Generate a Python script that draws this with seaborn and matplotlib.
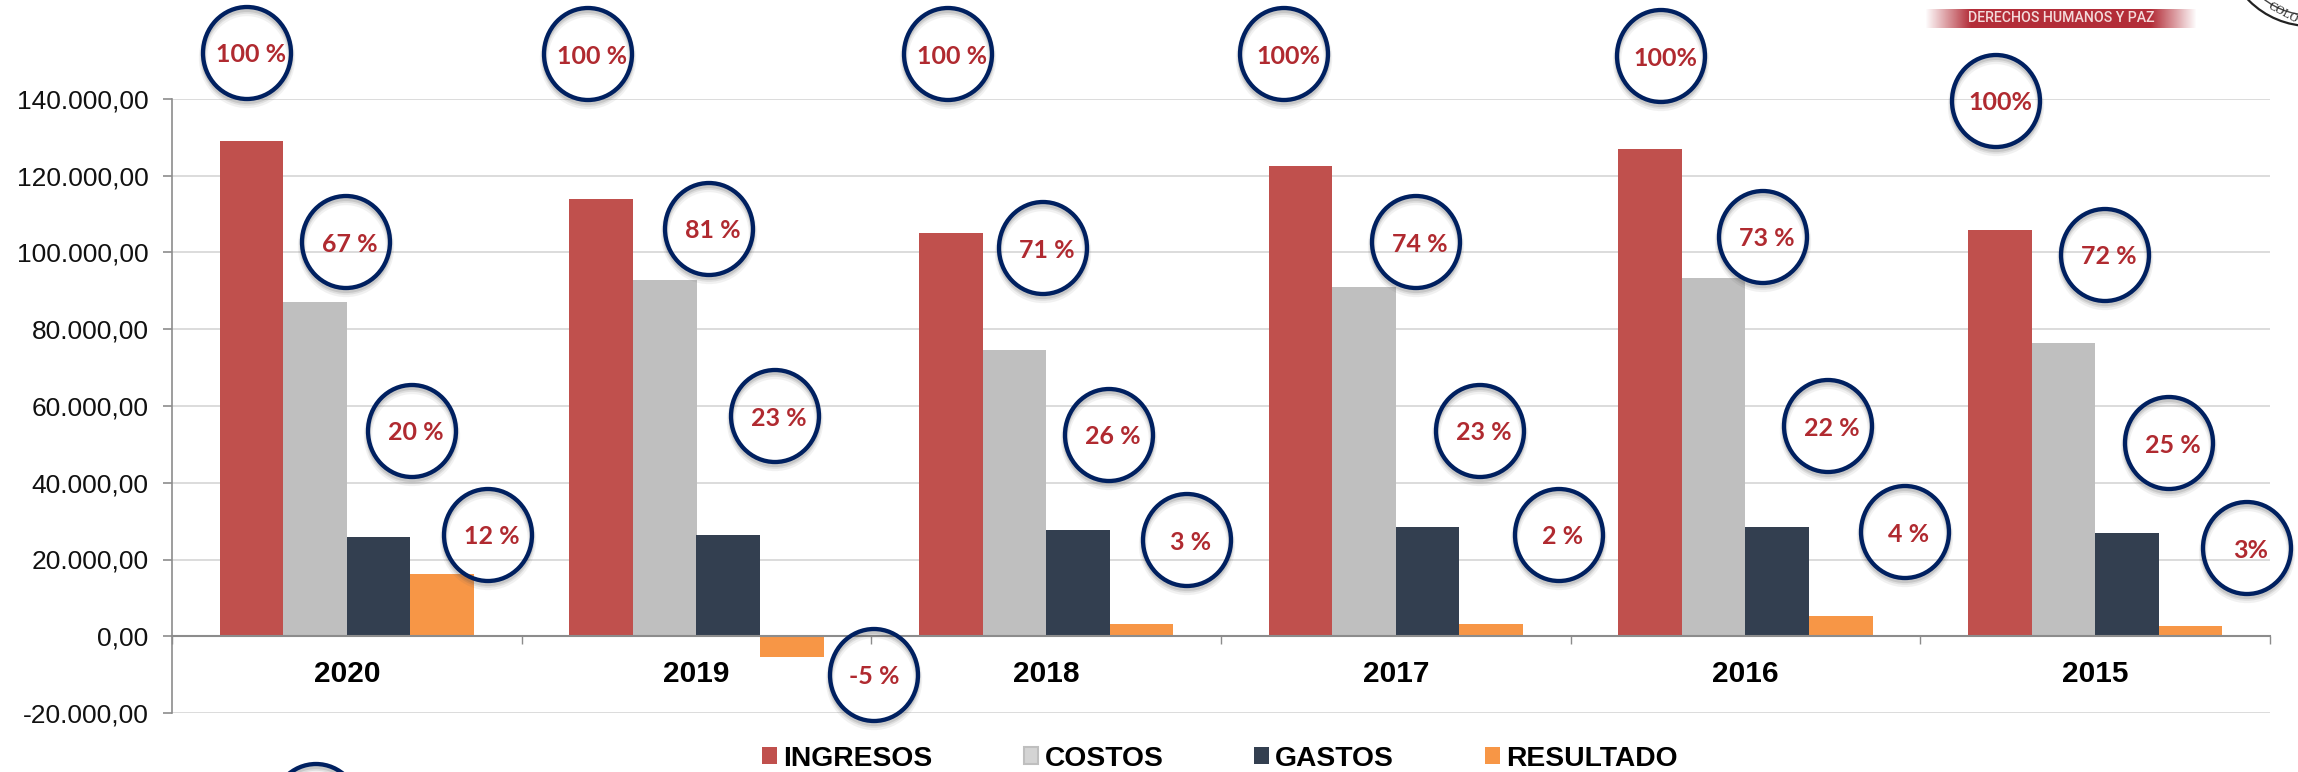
import numpy as np
import pandas as pd
import seaborn as sns
import matplotlib
matplotlib.use("Agg")
import matplotlib.pyplot as plt
from matplotlib.patches import Ellipse
from matplotlib.transforms import Affine2D

W, H = 2298, 772

years = ["2020", "2019", "2018", "2017", "2016", "2015"]
series = ["INGRESOS", "COSTOS", "GASTOS", "RESULTADO"]
ingresos = [129000, 113900, 105100, 122600, 126900, 105900]
costos = [87200, 92900, 74600, 91000, 93300, 76500]
gastos = [25800, 26500, 27700, 28400, 28400, 26900]
resultado = [16200, -5400, 3200, 3200, 5400, 2800]
y_ticks = [-20000, 0, 20000, 40000, 60000, 80000, 100000, 120000, 140000]

colors = ["#C0504D", "#BFBFBF", "#333F50", "#F79646"]

# callouts, pixel positions
labels = ["100 %", "67 %", "20 %", "12 %",
          "100 %", "81 %", "23 %", "-5 %",
          "100 %", "71 %", "26 %", "3 %",
          "100%", "74 %", "23 %", "2 %",
          "100%", "73 %", "22 %", "4 %",
          "100%", "72 %", "25 %", "3%"]
label_x = [247, 346, 412, 488, 588, 709, 775, 874, 948, 1043, 1109, 1187,
           1284, 1416, 1480, 1559, 1661, 1763, 1828, 1905, 1996, 2105, 2169, 2247]
label_y = [53, 242, 431, 535, 54, 229, 416, 675, 54, 248, 435, 540,
           54, 242, 431, 535, 56, 237, 426, 532, 101, 255, 443, 548]

df = pd.DataFrame({"year": years, "INGRESOS": ingresos, "COSTOS": costos,
                   "GASTOS": gastos, "RESULTADO": resultado})
df = df.melt(id_vars="year", var_name="serie", value_name="valor")

sns.set_theme(style="white")
plt.rcParams["font.family"] = ["Liberation Sans", "DejaVu Sans"]

fig = plt.figure(figsize=(W / 100, H / 100), dpi=100)
ax = fig.add_axes([172 / W, 1 - 713 / H, (2270 - 172) / W, (713 - 99) / H])

sns.barplot(data=df, x="year", y="valor", hue="serie", order=years, hue_order=series,
            palette=colors, width=0.7275, gap=0, saturation=1, errorbar=None, ax=ax, zorder=3,
            linewidth=0)

ax.set_xlim(-0.5, 5.5)
ax.set_ylim(-20000, 140000)
ax.set_xlabel("")
ax.set_ylabel("")
ax.set_yticks(y_ticks)
ax.set_yticklabels([f"{v:,.2f}".replace(",", "#").replace(".", ",").replace("#", ".") for v in y_ticks],
                   fontsize=19, color="#111111")
ax.tick_params(axis="y", length=6.5, width=1.2, color="#8C8C8C", left=True, pad=10.5)
ax.grid(axis="y", color="#D9D9D9", linewidth=1.3, zorder=0)
ax.set_axisbelow(True)

for s in ["top", "right"]:
    ax.spines[s].set_visible(False)
ax.spines["left"].set_color("#8C8C8C")
ax.spines["left"].set_linewidth(1.2)
ax.spines["bottom"].set_position(("data", 0))
ax.spines["bottom"].set_color("#8C8C8C")
ax.spines["bottom"].set_linewidth(1.5)
ax.spines["bottom"].set_zorder(4)

ax.set_xticks(np.arange(-0.5, 6), minor=True)
ax.tick_params(axis="x", which="minor", length=6, width=1, color="#8C8C8C", bottom=True)
ax.tick_params(axis="x", which="major", length=0, pad=17)
for t in ax.get_xticklabels():
    t.set_fontsize(21.5)
    t.set_fontweight("bold")
    t.set_color("black")

sns.move_legend(ax, "center", bbox_to_anchor=(1220 / W, 1 - 758.5 / H), bbox_transform=fig.transFigure,
                ncol=4, frameon=False, title=None, fontsize=20.3, handlelength=0.53, handleheight=0.53,
                handletextpad=0.21, columnspacing=3.23, borderpad=0, borderaxespad=0)
for t in ax.get_legend().get_texts():
    t.set_fontweight("bold")
    t.set_color("black")
ax.get_legend().legend_handles[1].set_facecolor("#D4D4D4")
ax.get_legend().legend_handles[1].set_edgecolor("#BFBFBF")
ax.get_legend().legend_handles[1].set_linewidth(1.5)

# pixel space with y going down
px = Affine2D().scale(1, -1).translate(0, H)


def ring(x, y):
    for dy, dw, a in [(5, 6, 0.08), (4, 4, 0.12), (3, 3, 0.16)]:
        fig.add_artist(Ellipse((x, y + dy), 88, 92, transform=px, fill=False,
                               edgecolor="#555555", linewidth=dw, alpha=a))
    fig.add_artist(Ellipse((x, y), 88, 92, transform=px, fill=False, edgecolor="#002060", linewidth=3.1))


for lab, x, y in zip(labels, label_x, label_y):
    ring(x, y)
    dx = 0 if lab == "-5 %" else 4
    fig.text((x + dx) / W, 1 - (y + 2) / H, lab, ha="center", va="center", fontsize=18,
             fontweight="bold", family="Lato", color="#B02A30")
# circle cut by the bottom edge
ring(316, 810)

# logo remains, top right
band = np.ones((1, 256, 4))
band[0, :, :3] = matplotlib.colors.to_rgb("#B32D38")
band[0, :, 3] = np.clip(np.minimum(np.linspace(0, 1, 256), np.linspace(1, 0, 256)) * 6, 0, 1)
logo = fig.add_axes([1925 / W, 1 - 28 / H, 272 / W, 19 / H])
logo.imshow(band, aspect="auto")
logo.axis("off")
fig.text(2061 / W, 1 - 18.5 / H, "DERECHOS HUMANOS Y PAZ", ha="center", va="center", fontsize=10.2,
         fontweight="medium", family="Roboto", color="#F3DADA")
# seal in the corner
fig.add_artist(Ellipse((2310, -60), 172, 172, transform=px, fill=False, edgecolor="#222222", linewidth=1.6))
fig.add_artist(Ellipse((2310, -60), 150, 150, transform=px, fill=False, edgecolor="#444444", linewidth=1))
fig.text(2283 / W, 1 - 13 / H, "COLO", ha="center", va="center", fontsize=8.5, rotation=-28,
         family="Liberation Serif", color="#222222")

fig.savefig("out.png", dpi=100, facecolor="white")
